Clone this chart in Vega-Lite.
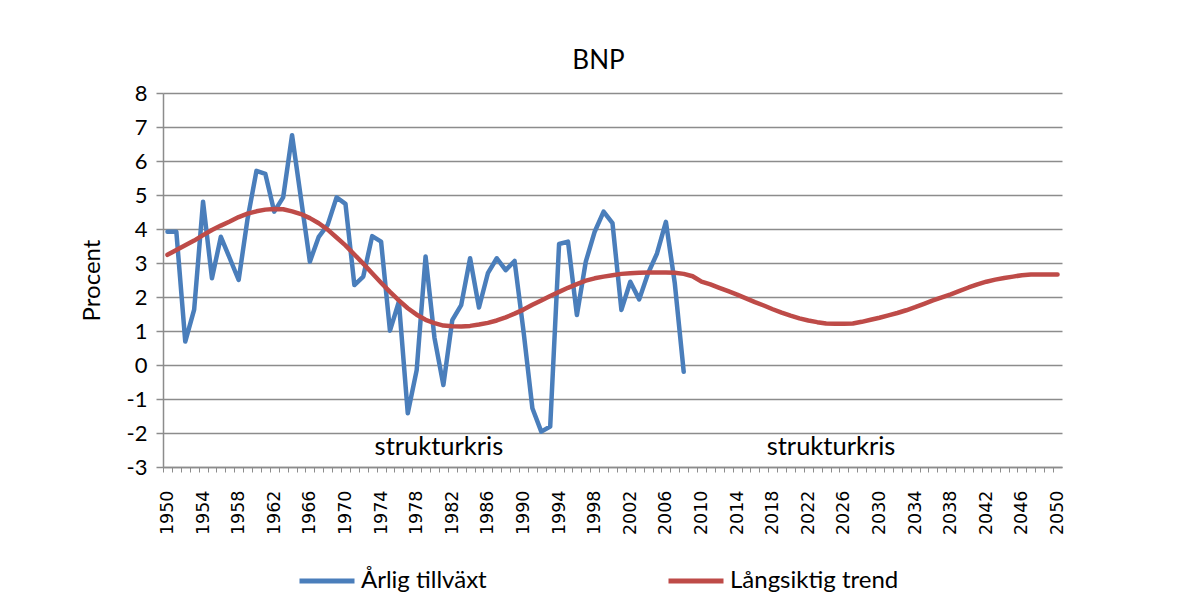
{
  "$schema": "https://vega.github.io/schema/vega-lite/v6.json",
  "width": 899,
  "height": 374,
  "autosize": {"type": "none"},
  "padding": {"left": 163, "top": 93, "right": 136, "bottom": 148},
  "background": "white",
  "config": {"view": {"stroke": null}},
  "title": {"text": "BNP", "font": "Lato", "fontSize": 26, "fontWeight": "normal", "color": "#000", "offset": 8, "frame": "group", "anchor": "middle", "dx": -14},
  "layer": [
    {
      "data": {"values": [
        {"year": 1950, "series": "Årlig tillväxt", "value": 3.92},
        {"year": 1951, "series": "Årlig tillväxt", "value": 3.92},
        {"year": 1952, "series": "Årlig tillväxt", "value": 0.69},
        {"year": 1953, "series": "Årlig tillväxt", "value": 1.63},
        {"year": 1954, "series": "Årlig tillväxt", "value": 4.8},
        {"year": 1955, "series": "Årlig tillväxt", "value": 2.55},
        {"year": 1956, "series": "Årlig tillväxt", "value": 3.77},
        {"year": 1957, "series": "Årlig tillväxt", "value": 3.14},
        {"year": 1958, "series": "Årlig tillväxt", "value": 2.5},
        {"year": 1959, "series": "Årlig tillväxt", "value": 4.3},
        {"year": 1960, "series": "Årlig tillväxt", "value": 5.71},
        {"year": 1961, "series": "Årlig tillväxt", "value": 5.62},
        {"year": 1962, "series": "Årlig tillväxt", "value": 4.51},
        {"year": 1963, "series": "Årlig tillväxt", "value": 4.93},
        {"year": 1964, "series": "Årlig tillväxt", "value": 6.76},
        {"year": 1965, "series": "Årlig tillväxt", "value": 4.9},
        {"year": 1966, "series": "Årlig tillväxt", "value": 3.04},
        {"year": 1967, "series": "Årlig tillväxt", "value": 3.77},
        {"year": 1968, "series": "Årlig tillväxt", "value": 4.12},
        {"year": 1969, "series": "Årlig tillväxt", "value": 4.93},
        {"year": 1970, "series": "Årlig tillväxt", "value": 4.74},
        {"year": 1971, "series": "Årlig tillväxt", "value": 2.35},
        {"year": 1972, "series": "Årlig tillväxt", "value": 2.6},
        {"year": 1973, "series": "Årlig tillväxt", "value": 3.79},
        {"year": 1974, "series": "Årlig tillväxt", "value": 3.63},
        {"year": 1975, "series": "Årlig tillväxt", "value": 1.01},
        {"year": 1976, "series": "Årlig tillväxt", "value": 1.86},
        {"year": 1977, "series": "Årlig tillväxt", "value": -1.42},
        {"year": 1978, "series": "Årlig tillväxt", "value": -0.15},
        {"year": 1979, "series": "Årlig tillväxt", "value": 3.19},
        {"year": 1980, "series": "Årlig tillväxt", "value": 0.8},
        {"year": 1981, "series": "Årlig tillväxt", "value": -0.59},
        {"year": 1982, "series": "Årlig tillväxt", "value": 1.32},
        {"year": 1983, "series": "Årlig tillväxt", "value": 1.76},
        {"year": 1984, "series": "Årlig tillväxt", "value": 3.14},
        {"year": 1985, "series": "Årlig tillväxt", "value": 1.69},
        {"year": 1986, "series": "Årlig tillväxt", "value": 2.7},
        {"year": 1987, "series": "Årlig tillväxt", "value": 3.14},
        {"year": 1988, "series": "Årlig tillväxt", "value": 2.79},
        {"year": 1989, "series": "Årlig tillväxt", "value": 3.06},
        {"year": 1990, "series": "Årlig tillväxt", "value": 1.0},
        {"year": 1991, "series": "Årlig tillväxt", "value": -1.27},
        {"year": 1992, "series": "Årlig tillväxt", "value": -1.96},
        {"year": 1993, "series": "Årlig tillväxt", "value": -1.81},
        {"year": 1994, "series": "Årlig tillväxt", "value": 3.56},
        {"year": 1995, "series": "Årlig tillväxt", "value": 3.63},
        {"year": 1996, "series": "Årlig tillväxt", "value": 1.47},
        {"year": 1997, "series": "Årlig tillväxt", "value": 3.04},
        {"year": 1998, "series": "Årlig tillväxt", "value": 3.92},
        {"year": 1999, "series": "Årlig tillväxt", "value": 4.51},
        {"year": 2000, "series": "Årlig tillväxt", "value": 4.17},
        {"year": 2001, "series": "Årlig tillväxt", "value": 1.62},
        {"year": 2002, "series": "Årlig tillväxt", "value": 2.45},
        {"year": 2003, "series": "Årlig tillväxt", "value": 1.93},
        {"year": 2004, "series": "Årlig tillväxt", "value": 2.7},
        {"year": 2005, "series": "Årlig tillväxt", "value": 3.28},
        {"year": 2006, "series": "Årlig tillväxt", "value": 4.21},
        {"year": 2007, "series": "Årlig tillväxt", "value": 2.4},
        {"year": 2008, "series": "Årlig tillväxt", "value": -0.2},
        {"year": 1950, "series": "Långsiktig trend", "value": 3.24},
        {"year": 1951, "series": "Långsiktig trend", "value": 3.38},
        {"year": 1952, "series": "Långsiktig trend", "value": 3.52},
        {"year": 1953, "series": "Långsiktig trend", "value": 3.66},
        {"year": 1954, "series": "Långsiktig trend", "value": 3.82},
        {"year": 1955, "series": "Långsiktig trend", "value": 3.97},
        {"year": 1956, "series": "Långsiktig trend", "value": 4.1},
        {"year": 1957, "series": "Långsiktig trend", "value": 4.22},
        {"year": 1958, "series": "Långsiktig trend", "value": 4.35},
        {"year": 1959, "series": "Långsiktig trend", "value": 4.45},
        {"year": 1960, "series": "Långsiktig trend", "value": 4.52},
        {"year": 1961, "series": "Långsiktig trend", "value": 4.57},
        {"year": 1962, "series": "Långsiktig trend", "value": 4.59},
        {"year": 1963, "series": "Långsiktig trend", "value": 4.58},
        {"year": 1964, "series": "Långsiktig trend", "value": 4.52},
        {"year": 1965, "series": "Långsiktig trend", "value": 4.44},
        {"year": 1966, "series": "Långsiktig trend", "value": 4.32},
        {"year": 1967, "series": "Långsiktig trend", "value": 4.17},
        {"year": 1968, "series": "Långsiktig trend", "value": 3.98},
        {"year": 1969, "series": "Långsiktig trend", "value": 3.75},
        {"year": 1970, "series": "Långsiktig trend", "value": 3.52},
        {"year": 1971, "series": "Långsiktig trend", "value": 3.25},
        {"year": 1972, "series": "Långsiktig trend", "value": 2.98},
        {"year": 1973, "series": "Långsiktig trend", "value": 2.7},
        {"year": 1974, "series": "Långsiktig trend", "value": 2.42},
        {"year": 1975, "series": "Långsiktig trend", "value": 2.15},
        {"year": 1976, "series": "Långsiktig trend", "value": 1.9},
        {"year": 1977, "series": "Långsiktig trend", "value": 1.67},
        {"year": 1978, "series": "Långsiktig trend", "value": 1.48},
        {"year": 1979, "series": "Långsiktig trend", "value": 1.33},
        {"year": 1980, "series": "Långsiktig trend", "value": 1.23},
        {"year": 1981, "series": "Långsiktig trend", "value": 1.16},
        {"year": 1982, "series": "Långsiktig trend", "value": 1.14},
        {"year": 1983, "series": "Långsiktig trend", "value": 1.13},
        {"year": 1984, "series": "Långsiktig trend", "value": 1.15},
        {"year": 1985, "series": "Långsiktig trend", "value": 1.19},
        {"year": 1986, "series": "Långsiktig trend", "value": 1.24},
        {"year": 1987, "series": "Långsiktig trend", "value": 1.31},
        {"year": 1988, "series": "Långsiktig trend", "value": 1.4},
        {"year": 1989, "series": "Långsiktig trend", "value": 1.51},
        {"year": 1990, "series": "Långsiktig trend", "value": 1.63},
        {"year": 1991, "series": "Långsiktig trend", "value": 1.77},
        {"year": 1992, "series": "Långsiktig trend", "value": 1.9},
        {"year": 1993, "series": "Långsiktig trend", "value": 2.03},
        {"year": 1994, "series": "Långsiktig trend", "value": 2.15},
        {"year": 1995, "series": "Långsiktig trend", "value": 2.27},
        {"year": 1996, "series": "Långsiktig trend", "value": 2.38},
        {"year": 1997, "series": "Långsiktig trend", "value": 2.48},
        {"year": 1998, "series": "Långsiktig trend", "value": 2.55},
        {"year": 1999, "series": "Långsiktig trend", "value": 2.6},
        {"year": 2000, "series": "Långsiktig trend", "value": 2.64},
        {"year": 2001, "series": "Långsiktig trend", "value": 2.68},
        {"year": 2002, "series": "Långsiktig trend", "value": 2.7},
        {"year": 2003, "series": "Långsiktig trend", "value": 2.71},
        {"year": 2004, "series": "Långsiktig trend", "value": 2.72},
        {"year": 2005, "series": "Långsiktig trend", "value": 2.72},
        {"year": 2006, "series": "Långsiktig trend", "value": 2.72},
        {"year": 2007, "series": "Långsiktig trend", "value": 2.71},
        {"year": 2008, "series": "Långsiktig trend", "value": 2.68},
        {"year": 2009, "series": "Långsiktig trend", "value": 2.61},
        {"year": 2010, "series": "Långsiktig trend", "value": 2.45},
        {"year": 2011, "series": "Långsiktig trend", "value": 2.37},
        {"year": 2012, "series": "Långsiktig trend", "value": 2.27},
        {"year": 2013, "series": "Långsiktig trend", "value": 2.17},
        {"year": 2014, "series": "Långsiktig trend", "value": 2.07},
        {"year": 2015, "series": "Långsiktig trend", "value": 1.96},
        {"year": 2016, "series": "Långsiktig trend", "value": 1.85},
        {"year": 2017, "series": "Långsiktig trend", "value": 1.75},
        {"year": 2018, "series": "Långsiktig trend", "value": 1.64},
        {"year": 2019, "series": "Långsiktig trend", "value": 1.54},
        {"year": 2020, "series": "Långsiktig trend", "value": 1.45},
        {"year": 2021, "series": "Långsiktig trend", "value": 1.37},
        {"year": 2022, "series": "Långsiktig trend", "value": 1.31},
        {"year": 2023, "series": "Långsiktig trend", "value": 1.26},
        {"year": 2024, "series": "Långsiktig trend", "value": 1.22},
        {"year": 2025, "series": "Långsiktig trend", "value": 1.21},
        {"year": 2026, "series": "Långsiktig trend", "value": 1.21},
        {"year": 2027, "series": "Långsiktig trend", "value": 1.22},
        {"year": 2028, "series": "Långsiktig trend", "value": 1.27},
        {"year": 2029, "series": "Långsiktig trend", "value": 1.33},
        {"year": 2030, "series": "Långsiktig trend", "value": 1.39},
        {"year": 2031, "series": "Långsiktig trend", "value": 1.46},
        {"year": 2032, "series": "Långsiktig trend", "value": 1.53},
        {"year": 2033, "series": "Långsiktig trend", "value": 1.61},
        {"year": 2034, "series": "Långsiktig trend", "value": 1.7},
        {"year": 2035, "series": "Långsiktig trend", "value": 1.8},
        {"year": 2036, "series": "Långsiktig trend", "value": 1.9},
        {"year": 2037, "series": "Långsiktig trend", "value": 1.99},
        {"year": 2038, "series": "Långsiktig trend", "value": 2.08},
        {"year": 2039, "series": "Långsiktig trend", "value": 2.18},
        {"year": 2040, "series": "Långsiktig trend", "value": 2.28},
        {"year": 2041, "series": "Långsiktig trend", "value": 2.37},
        {"year": 2042, "series": "Långsiktig trend", "value": 2.45},
        {"year": 2043, "series": "Långsiktig trend", "value": 2.51},
        {"year": 2044, "series": "Långsiktig trend", "value": 2.56},
        {"year": 2045, "series": "Långsiktig trend", "value": 2.6},
        {"year": 2046, "series": "Långsiktig trend", "value": 2.64},
        {"year": 2047, "series": "Långsiktig trend", "value": 2.66},
        {"year": 2048, "series": "Långsiktig trend", "value": 2.66},
        {"year": 2049, "series": "Långsiktig trend", "value": 2.66},
        {"year": 2050, "series": "Långsiktig trend", "value": 2.66}
      ]},
      "mark": {"type": "line", "strokeWidth": 4.5, "strokeCap": "round", "strokeJoin": "round"},
      "encoding": {
        "x": {
          "field": "year", "type": "quantitative",
          "scale": {"domain": [1949.5, 2050.5], "nice": false, "zero": false},
          "axis": {
            "title": null,
            "values": [1950,1951,1952,1953,1954,1955,1956,1957,1958,1959,1960,1961,1962,1963,1964,1965,1966,1967,1968,1969,1970,1971,1972,1973,1974,1975,1976,1977,1978,1979,1980,1981,1982,1983,1984,1985,1986,1987,1988,1989,1990,1991,1992,1993,1994,1995,1996,1997,1998,1999,2000,2001,2002,2003,2004,2005,2006,2007,2008,2009,2010,2011,2012,2013,2014,2015,2016,2017,2018,2019,2020,2021,2022,2023,2024,2025,2026,2027,2028,2029,2030,2031,2032,2033,2034,2035,2036,2037,2038,2039,2040,2041,2042,2043,2044,2045,2046,2047,2048,2049,2050],
            "tickCount": 500,
            "format": "d",
            "labelExpr": "(datum.value - 1950) % 4 === 0 ? datum.label : ''",
            "labelAngle": -90,
            "labelFont": "DejaVu Sans",
            "labelFontSize": 17.5,
            "labelColor": "#000",
            "labelPadding": 18,
            "labelOverlap": false,
            "labelFlush": false,
            "tickOffset": -4.45,
            "labelOffset": 4.45,
            "tickSize": 5,
            "tickWidth": 1,
            "tickColor": "#8c8c8c",
            "domainColor": "#8c8c8c",
            "domainWidth": 1.5,
            "grid": false
          }
        },
        "y": {
          "field": "value", "type": "quantitative",
          "scale": {"domain": [-3, 8], "nice": false, "zero": false},
          "axis": {
            "title": "Procent",
            "values": [-3,-2,-1,0,1,2,3,4,5,6,7,8],
            "tickCount": 50,
            "labelExpr": "'' + datum.value",
            "labelOverlap": false,
            "grid": true,
            "gridColor": "#8c8c8c",
            "gridWidth": 1.5,
            "domainColor": "#8c8c8c",
            "domainWidth": 1.5,
            "tickColor": "#8c8c8c",
            "tickWidth": 1.5,
            "tickSize": 7,
            "labelFont": "Lato",
            "labelFontSize": 22,
            "labelColor": "#000",
            "labelPadding": 9,
            "titleFont": "Lato",
            "titleFontSize": 24,
            "titleFontWeight": "normal",
            "titleColor": "#000",
            "titlePadding": 22
          }
        },
        "color": {
          "field": "series", "type": "nominal",
          "scale": {"domain": ["Årlig tillväxt", "Långsiktig trend"], "range": ["#4a7ebb", "#be4b48"]},
          "legend": {
            "title": null,
            "orient": "none",
            "direction": "horizontal",
            "legendX": 134,
            "legendY": 458,
            "symbolType": "stroke",
            "symbolSize": 3025,
            "symbolStrokeWidth": 5,
            "labelFont": "Lato",
            "labelFontSize": 24,
            "labelColor": "#000",
            "labelOffset": 4,
            "labelLimit": 400,
            "columnPadding": 171
          }
        }
      }
    },
    {
      "data": {"values": [
        {"year": 1980.5, "value": -2.42, "label": "strukturkris"},
        {"year": 2024.55, "value": -2.42, "label": "strukturkris"}
      ]},
      "mark": {"type": "text", "font": "Lato", "fontSize": 25.5, "color": "#000", "baseline": "middle", "align": "center"},
      "encoding": {
        "x": {"field": "year", "type": "quantitative"},
        "y": {"field": "value", "type": "quantitative"},
        "text": {"field": "label"}
      }
    }
  ]
}
